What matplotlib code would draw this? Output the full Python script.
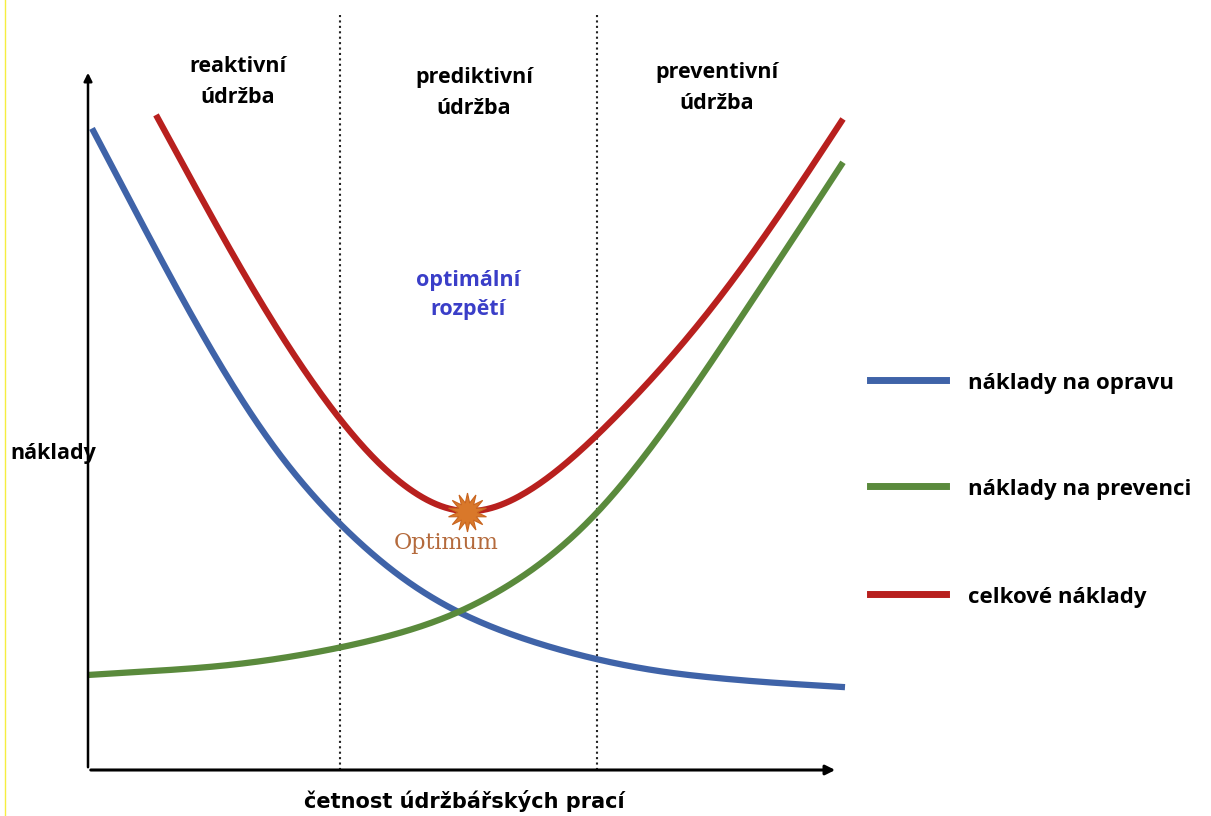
import numpy as np
import matplotlib.pyplot as plt
from matplotlib.lines import Line2D

plt.rcParams['font.family'] = ['Open Sans', 'DejaVu Sans']

# curve readings (x: frequency units, y: cost units; 1 unit = 10 px)
repair_x = [0.4, 4.2, 9.2, 14.2, 19.2, 25.0, 31.2, 37.2, 44.5, 50.7, 57.2, 67.2, 75.7]
repair_y = [64.2, 57.0, 47.5, 38.8, 31.2, 24.8, 19.2, 15.6, 12.8, 11.1, 9.8, 8.8, 8.3]

prevent_x = [0.0, 6.2, 11.2, 16.2, 21.2, 25.0, 31.2, 37.2, 44.5, 50.7, 57.2, 62.2, 67.2, 72.2, 75.5]
prevent_y = [9.5, 9.9, 10.2, 10.7, 11.5, 12.2, 13.7, 15.7, 20.0, 25.2, 33.4, 40.6, 48.2, 55.6, 60.9]

total_x = [6.8, 10.9, 15.9, 20.9, 25.0, 29.5, 34.5, 37.9, 41.2, 46.2, 50.7, 57.2, 62.2, 67.2, 72.2, 75.5]
total_y = [65.6, 58.0, 49.0, 41.0, 35.3, 30.1, 26.6, 25.4, 26.4, 29.3, 33.3, 40.0, 45.9, 52.7, 60.0, 65.3]

optimum = (37.9, 25.8)
zone_edges = [25.2, 50.9]
zone_labels = ['reaktivní\núdržba', 'prediktivní\núdržba', 'preventivní\núdržba']
legend_labels = ['náklady na opravu', 'náklady na prevenci', 'celkové náklady']

blue = '#3f63a8'
green = '#5a8a3c'
red = '#b8201e'

fig = plt.figure(figsize=(12.11, 8.16), dpi=100)
ax = fig.add_axes([88 / 1211, 46 / 816, 760 / 1211, 770 / 816])
ax.set_xlim(0, 76.0)
ax.set_ylim(0, 77.0)
ax.axis('off')


def smooth(xs, ys, lam=20000.0):
    # Whittaker smoothing of the read points to remove reading jitter
    t = np.linspace(xs[0], xs[-1], 300)
    z0 = np.interp(t, xs, ys)
    n = len(t)
    D = np.diff(np.eye(n), 2, axis=0)
    z = np.linalg.solve(np.eye(n) + lam * D.T @ D, z0)
    return t, z


# axes with arrows
ax.annotate('', xy=(75.0, 0), xytext=(0, 0),
            arrowprops=dict(arrowstyle='-|>', color='black', lw=2.2, mutation_scale=14))
ax.annotate('', xy=(0, 70.0), xytext=(0, 0),
            arrowprops=dict(arrowstyle='-|>', color='black', lw=1.8, mutation_scale=12))

for xe in zone_edges:
    ax.plot([xe, xe], [0, 75.5], color='#222222', lw=1.5, ls=(0, (1, 1.6)))

for xs, ys, c in [(repair_x, repair_y, blue), (prevent_x, prevent_y, green), (total_x, total_y, red)]:
    tx, ty = smooth(xs, ys)
    ax.plot(tx, ty, color=c, lw=4.5, solid_capstyle='butt')

# optimum star
ax.plot(*optimum, marker=(14, 1, 0), ms=28, color='#d9782a', mec='#c8641e', mew=0.8)
ax.text(optimum[0] - 2.1, optimum[1] - 3.1, 'Optimum', family='DejaVu Serif', fontsize=16,
        color='#b46a3c', ha='center', va='center')

zone_centers = [15.0, 38.6, 62.9]
zone_tops = [68.8, 67.7, 68.2]
for xc, yt, lab in zip(zone_centers, zone_tops, zone_labels):
    ax.text(xc, yt, lab, fontsize=15.5, fontweight='bold', ha='center', va='center',
            linespacing=1.6)

ax.text(38.0, 47.5, 'optimální\nrozpětí', fontsize=15.5, fontweight='bold', color='#3a3ec8',
        ha='center', va='center', linespacing=1.5)

fig.text(10 / 1211, 1 - 453 / 816, 'náklady', fontsize=15.5, fontweight='bold', ha='left', va='center')
fig.text(464 / 1211, 1 - 801 / 816, 'četnost údržbářských prací', fontsize=15, fontweight='bold',
         ha='center', va='center', family=['Liberation Sans Narrow', 'DejaVu Sans'])

# legend, drawn manually
leg_y = [380, 486, 594]
for yy, c, lab in zip(leg_y, [blue, green, red], legend_labels):
    fig.add_artist(Line2D([870 / 1211, 946 / 1211], [1 - yy / 816, 1 - yy / 816], color=c, lw=5))
    fig.text(968 / 1211, 1 - (yy + 3) / 816, lab, fontsize=16, fontweight='bold', ha='left', va='center')

# thin left border
fig.add_artist(Line2D([5 / 1211, 5 / 1211], [0, 1], color='#f5ee40', lw=1))

fig.savefig('out.png', dpi=100)
